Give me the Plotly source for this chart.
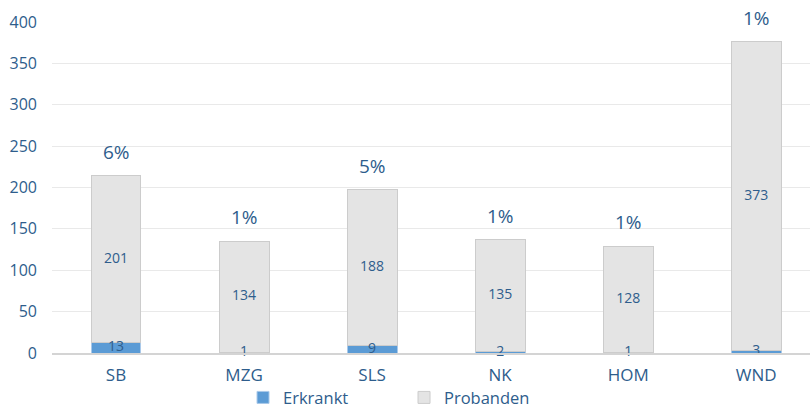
import plotly.graph_objects as go

categories = ["SB", "MZG", "SLS", "NK", "HOM", "WND"]
erkrankt = [13, 1, 9, 2, 1, 3]
probanden = [201, 134, 188, 135, 128, 373]
y_ticks = [0, 50, 100, 150, 200, 250, 300, 350, 400]

totals = [e + p for e, p in zip(erkrankt, probanden)]
percents = [f"{round(100 * e / t)}%" for e, t in zip(erkrankt, totals)]

text_color = "#2e5d8c"
font_family = "Open Sans, Arial, sans-serif"

fig = go.Figure()
fig.add_trace(go.Bar(
    name="Erkrankt", x=categories, y=erkrankt,
    marker=dict(color="#5b9bd5", line=dict(color="#a9c9ea", width=1)),
    cliponaxis=False,
))
fig.add_trace(go.Bar(
    name="Probanden", x=categories, y=probanden,
    marker=dict(color="#e4e4e4", line=dict(color="#cccccc", width=1)),
    cliponaxis=False,
))

# value labels centered in each segment, drawn on top of all bars
fig.add_trace(go.Scatter(
    x=categories, y=[e / 2 for e in erkrankt], mode="text",
    text=[str(v) for v in erkrankt], textposition="middle center",
    textfont=dict(color=text_color, size=14, family=font_family),
    showlegend=False, hoverinfo="skip", cliponaxis=False,
))
fig.add_trace(go.Scatter(
    x=categories, y=[e + p / 2 for e, p in zip(erkrankt, probanden)], mode="text",
    text=[str(v) for v in probanden], textposition="middle center",
    textfont=dict(color=text_color, size=14, family=font_family),
    showlegend=False, hoverinfo="skip", cliponaxis=False,
))

for c, t, pct in zip(categories, totals, percents):
    fig.add_annotation(
        x=c, y=t, text=pct, showarrow=False, yanchor="bottom",
        yshift=9, font=dict(size=19, color=text_color, family=font_family),
    )

fig.update_layout(
    barmode="stack",
    bargap=0.61,
    width=810, height=409,
    margin=dict(l=52, r=0, t=22, b=56, autoexpand=False),
    plot_bgcolor="white", paper_bgcolor="white",
    font=dict(family=font_family, color=text_color, size=16),
    legend=dict(
        orientation="h", x=0.252, xanchor="left", y=-0.135, yanchor="middle",
        font=dict(size=16.5, color=text_color), traceorder="normal",
        entrywidth=116, bgcolor="rgba(0,0,0,0)",
    ),
    xaxis=dict(
        range=[-0.5, 5.42], showgrid=False, showline=True, automargin=False,
        linecolor="#d4d4d4", linewidth=2,
        tickfont=dict(size=17, color=text_color), ticklabelstandoff=6,
    ),
    yaxis=dict(
        range=[0, 400], tickvals=y_ticks, showgrid=True, automargin=False,
        gridcolor="#e9e9e9", gridwidth=1, zeroline=False, showline=False,
        tickfont=dict(size=16, color=text_color), ticklabelstandoff=14,
    ),
)

fig.write_html(
    "out.html",
    config={"displayModeBar": False},
    post_script="document.body.style.margin='0';document.body.style.overflow='hidden';",
)
